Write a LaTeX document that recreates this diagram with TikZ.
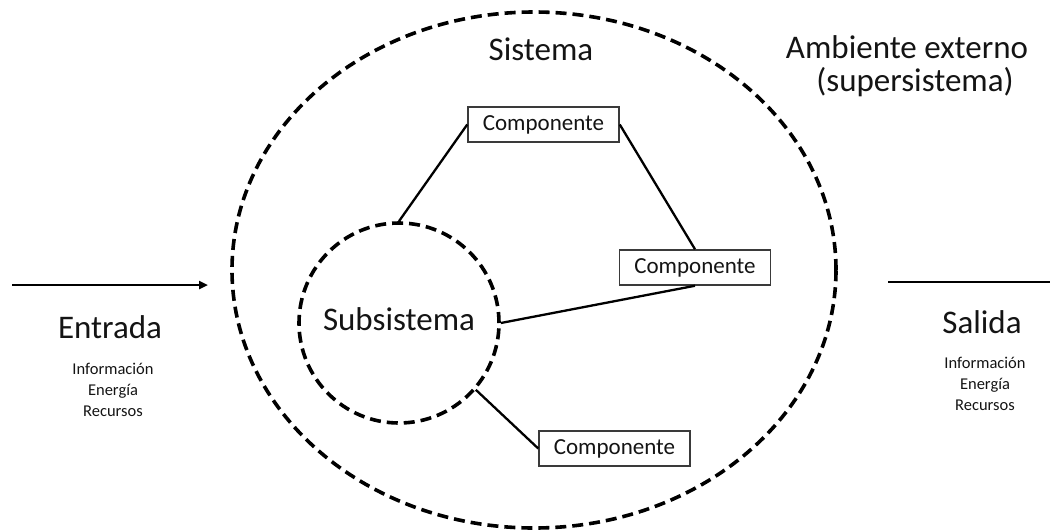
\documentclass[tikz,border=0pt]{standalone}
\usepackage{fontspec}
\setmainfont{Carlito}
\usetikzlibrary{shapes.geometric,arrows.meta}
\definecolor{ink}{HTML}{141414}
\definecolor{boxline}{HTML}{3A3A3A}
\begin{document}
\begin{tikzpicture}[x=1pt,y=-1pt,
  dashring/.style={draw=black,line width=3.6pt,dash pattern=on 11pt off 6pt},
  comp/.style={draw=boxline,line width=1.5pt,fill=white,minimum width=151pt,
    minimum height=35pt,inner sep=0pt,text=ink,font=\fontsize{23}{26}\selectfont},
  link/.style={draw=black,line width=2.3pt},
  bigtxt/.style={text=ink,anchor=base,inner sep=0pt,font=\fontsize{33}{38}\selectfont},
  smalltxt/.style={text=ink,anchor=base,inner sep=0pt,font=\fontsize{16.5}{20}\selectfont}]
\useasboundingbox (0,0) rectangle (1050,531);

% system boundary and subsystem
\node[ellipse,dashring,minimum width=604pt,minimum height=516pt,inner sep=0pt] (sys) at (534,270) {};
\node[circle,dashring,minimum size=200pt,inner sep=0pt] (sub) at (399,323) {};
\node[bigtxt] (subt) at (399,330) {Subsistema};

% components
\node[comp] (c1) at (543.5,124.5) {Componente};
\node[comp] (c2) at (695,267.5) {Componente};
\node[comp] (c3) at (614.5,448.5) {Componente};

\draw[link] (c1.west) -- (sub.90);
\draw[link] (c1.east) -- (c2.north);
\draw[link] (c2.south) -- (sub.east);
\draw[link] (sub.-41) -- (c3.west);

% titles
\node[bigtxt] (sist) at (541,60) {Sistema};
\node[bigtxt] (amb1) at (907,58) {Ambiente externo};
\node[bigtxt] (amb2) at (915,91) {(supersistema)};

% input
\coordinate (inA) at (12,285);
\coordinate (inB) at (208,285);
\draw[link,-{Triangle[length=9pt,width=8pt]}] (inA) -- (inB);
\node[bigtxt] (ent) at (110,338) {Entrada};
\node[smalltxt] (ent1) at (113,374) {Información};
\node[smalltxt] (ent2) at (113,395) {Energía};
\node[smalltxt] (ent3) at (113,416) {Recursos};

% output
\coordinate (outA) at (888,282);
\coordinate (outB) at (1050,282);
\draw[link] (outA) -- (outB);
\node[bigtxt] (sal) at (982,333) {Salida};
\node[smalltxt] (sal1) at (985,368) {Información};
\node[smalltxt] (sal2) at (985,389) {Energía};
\node[smalltxt] (sal3) at (985,410) {Recursos};
\end{tikzpicture}
\end{document}
